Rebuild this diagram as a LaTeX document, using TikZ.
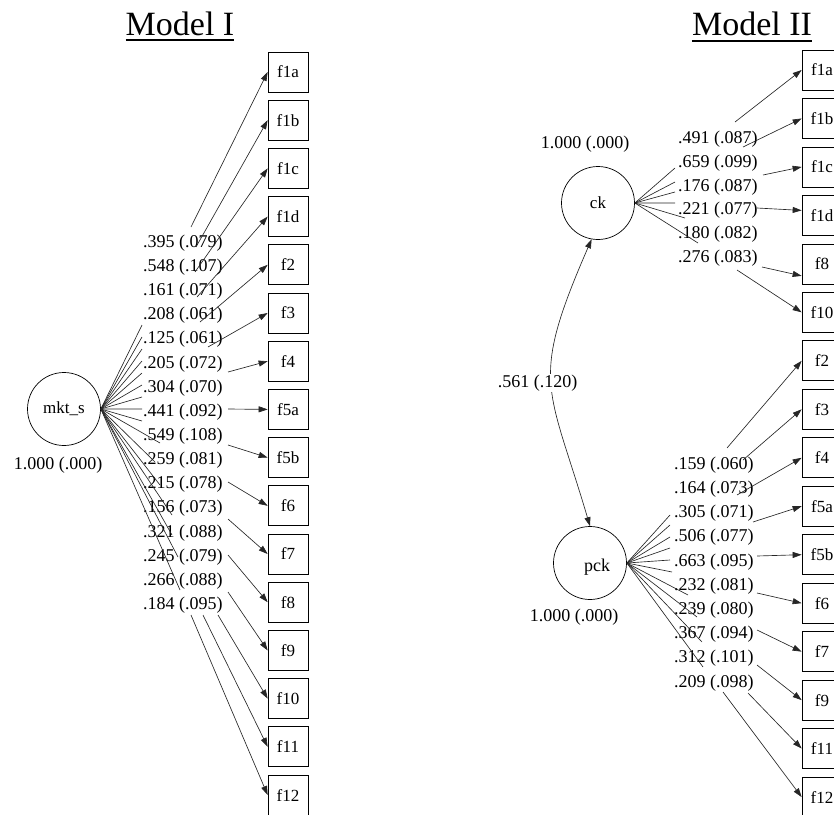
\documentclass[tikz,border=0pt]{standalone}
\usepackage{fontspec}
\newfontfamily\tnr{Liberation Serif}
\usetikzlibrary{arrows.meta}
\begin{document}
\begin{tikzpicture}[x=1pt,y=-1pt,
  lat/.style={circle,draw,line width=0.7pt,minimum size=73pt,inner sep=0pt,font=\tnr\fontsize{17}{20}\selectfont},
  obs/.style={rectangle,draw,line width=0.7pt,minimum size=40pt,inner sep=0pt,font=\tnr\fontsize{17}{20}\selectfont},
  lab/.style={anchor=west,inner sep=0pt,font=\tnr\fontsize{18}{20}\selectfont},
  var/.style={inner sep=0pt,font=\tnr\fontsize{18}{20}\selectfont},
  ttl/.style={anchor=base,inner sep=0pt,font=\tnr\fontsize{34}{40}\selectfont},
  edge/.style={line width=0.65pt,draw=black!85},
  arr/.style={edge,-{Triangle[length=9pt,width=6pt]}},
]
\path[use as bounding box] (0,0) rectangle (834,814);

% ---------------- Model I ----------------
\node[ttl] (t1) at (180,35) {Model I};
\draw[line width=1.6pt] ([yshift=-5pt]t1.base west) -- ([yshift=-5pt]t1.base east);

\node[lat] (mkt) at (64,409) {mkt\_s};
\node[var] (mktv) at (58,465) {1.000 (.000)};

\foreach \n [count=\i from 0] in {f1a,f1b,f1c,f1d,f2,f3,f4,f5a,f5b,f6,f7,f8,f9,f10,f11,f12}
  \node[obs] (A\n) at (288,{72+48.2*\i}) {\n};

\foreach \t [count=\i from 0] in {.395 (.079),.548 (.107),.161 (.071),.208 (.061),.125 (.061),.205 (.072),.304 (.070),.441 (.092),.549 (.108),.259 (.081),.215 (.078),.156 (.073),.321 (.088),.245 (.079),.266 (.088),.184 (.095)}
  \node[lab] (LA\i) at (143,{243+24.15*\i}) {\t};

\foreach \n/\ax/\ay/\bx/\by in {
  f1a/142/325/191/227, f1b/142/337/196/247, f1c/142/349/195/272, f1d/142/361/197/297,
  f2/142/373/200/322, f3/142/385/208/347, f4/142/397/228/372, f5a/142/409/228/409,
  f5b/142/421/228/445, f6/160/443/228/482, f7/155/462/228/519, f8/160/485/228/555,
  f9/172/515/228/592, f10/172/535/218/615, f11/178/557/203/615, f12/180/590/191/615}
  \draw[arr] (mkt.east) -- (\ax,\ay) (\bx,\by) -- (A\n.west);

% ---------------- Model II ----------------
\node[ttl] (t2) at (752,35) {Model II};
\draw[line width=1.6pt] ([yshift=-6pt]t2.base west) -- ([yshift=-6pt]t2.base east);

\node[lat] (ck) at (598,203) {ck};
\node[lat] (pck) at (590,563) {};
\node[var] (pckt) at (597,567) {pck};
\node[var] (ckv) at (585,144) {1.000 (.000)};
\node[var] (pckv) at (574,617) {1.000 (.000)};

\foreach \n [count=\i from 0] in {f1a,f1b,f1c,f1d,f8,f10,f2,f3,f4,f5a,f5b,f6,f7,f9,f11,f12}
  \node[obs] (B\n) at (822,{70+48.47*\i}) {\n};

\foreach \t [count=\i from 0] in {.491 (.087),.659 (.099),.176 (.087),.221 (.077),.180 (.082),.276 (.083)}
  \node[lab] (LC\i) at (678,{139.5+23.7*\i}) {\t};
\foreach \t [count=\i from 0] in {.159 (.060),.164 (.073),.305 (.071),.506 (.077),.663 (.095),.232 (.081),.239 (.080),.367 (.094),.312 (.101),.209 (.098)}
  \node[lab] (LP\i) at (674,{465+24.2*\i}) {\t};

\foreach \n/\ax/\ay/\bx/\by/\dy in {
  f1a/675/168/735/122/0, f1b/675/182/743/147/0, f1c/675/192/763/175/0,
  f1d/675/203/757/208/5, f8/685/218/762/267/-12, f10/698/243/737/270/0}
  \draw[arr] (ck.east) -- (\ax,\ay) (\bx,\by) -- ([yshift=\dy pt]B\n.west);

\foreach \n/\ax/\ay/\bx/\by in {
  f2/670/515/727/448, f3/670/525/743/460, f4/670/537/737/495, f5a/670/548/753/522,
  f5b/670/560/757/556, f6/672/572/757/593, f7/688/595/757/630, f9/697/617/757/665,
  f11/702/642/748/693, f12/703/667/723/692}
  \draw[arr] (pck.east) -- (\ax,\ay) (\bx,\by) -- (B\n.west);

\draw[edge,{Triangle[length=9pt,width=6pt]}-{Triangle[length=9pt,width=6pt]}]
  (ck.-100) .. controls (529,383) and (548,384) .. (pck.north);
\node[var,fill=white,inner sep=1pt] (cov) at (537.5,383) {.561 (.120)};
\end{tikzpicture}
\end{document}
